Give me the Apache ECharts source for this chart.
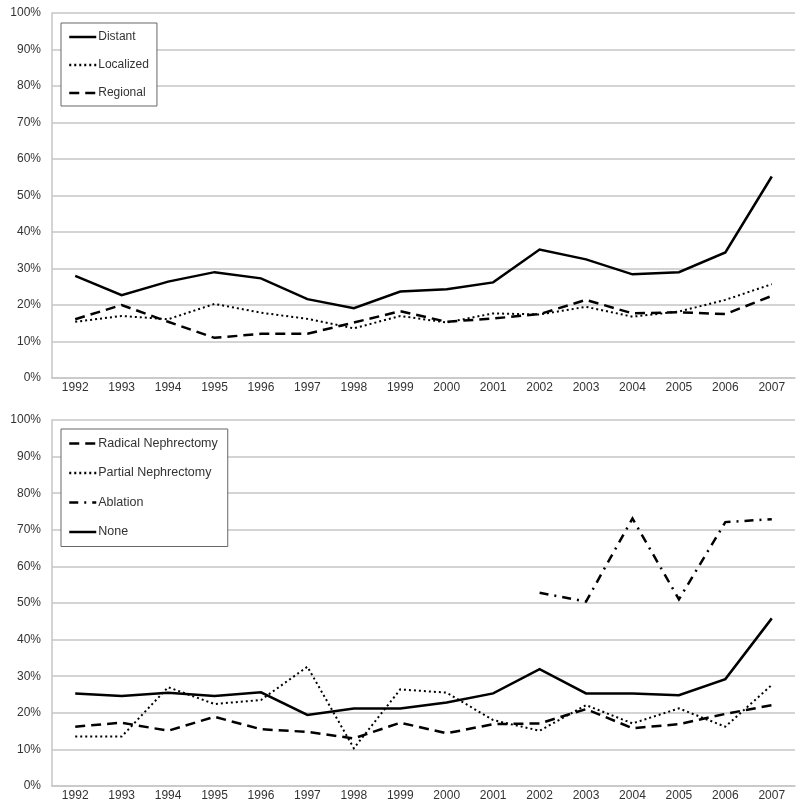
<!DOCTYPE html>
<html>
<head>
<meta charset="utf-8">
<script src="https://cdn.jsdelivr.net/npm/echarts@6/dist/echarts.min.js"></script>
<style>
html,body{margin:0;padding:0;background:#fff;}
#chart{width:800px;height:809px;}
</style>
</head>
<body>
<div id="chart"></div>
<script>
var years = ['1992','1993','1994','1995','1996','1997','1998','1999','2000','2001','2002','2003','2004','2005','2006','2007'];

var distant   = [28.0, 22.7, 26.4, 29.0, 27.3, 21.6, 19.1, 23.7, 24.3, 26.2, 35.2, 32.5, 28.4, 29.0, 34.4, 55.2];
var localized = [15.4, 17.0, 16.1, 20.3, 17.9, 16.2, 13.6, 17.0, 15.2, 17.7, 17.4, 19.5, 16.8, 18.2, 21.4, 25.7];
var regional  = [16.1, 20.0, 15.4, 11.0, 12.1, 12.1, 15.2, 18.3, 15.4, 16.3, 17.5, 21.4, 17.7, 18.0, 17.5, 22.5];

var radical = [16.2, 17.3, 15.1, 18.9, 15.5, 14.8, 13.0, 17.3, 14.4, 16.9, 17.1, 21.0, 15.8, 16.9, 19.7, 22.1];
var partial = [13.5, 13.5, 27.0, 22.4, 23.5, 32.6, 10.3, 26.4, 25.5, 18.0, 15.1, 22.1, 17.1, 21.2, 16.2, 27.6];
var ablation = [null, null, null, null, null, null, null, null, null, null, 52.8, 50.4, 73.1, 51.0, 72.1, 72.9];
var none    = [25.3, 24.6, 25.5, 24.6, 25.6, 19.4, 21.2, 21.2, 22.8, 25.3, 31.9, 25.3, 25.3, 24.8, 29.2, 45.8];

var yTicks = [0, 10, 20, 30, 40, 50, 60, 70, 80, 90, 100];

var chart = echarts.init(document.getElementById('chart'), null, {renderer: 'canvas'});

var fontFam = '"Liberation Sans", Arial, sans-serif';
var labelColor = '#333';
var gridColor = '#c6c6c6';

function xAxis(idx) {
  return {
    type: 'category', gridIndex: idx, data: years, boundaryGap: true,
    axisLine: {show: true, lineStyle: {color: gridColor, width: 1.5}},
    axisTick: {show: false},
    axisLabel: {color: labelColor, fontSize: 12, fontFamily: fontFam, margin: 4}
  };
}
function yAxis(idx) {
  return {
    type: 'value', gridIndex: idx, min: yTicks[0], max: yTicks[yTicks.length - 1], interval: 10,
    axisLine: {show: true, lineStyle: {color: gridColor, width: 1.5}},
    axisTick: {show: false},
    splitLine: {show: true, lineStyle: {color: gridColor, width: 1.5}},
    axisLabel: {color: labelColor, fontSize: 12, fontFamily: fontFam, margin: 11, formatter: '{value}%'}
  };
}
function line(name, data, idx, dash, width) {
  return {
    name: name, type: 'line', xAxisIndex: idx, yAxisIndex: idx, data: data,
    symbol: 'none', connectNulls: false, animation: false,
    lineStyle: {color: '#000', width: width, type: dash, cap: 'butt', join: 'miter'},
    itemStyle: {color: '#000'}
  };
}

var option = {
  backgroundColor: '#fff',
  animation: false,
  grid: [
    {left: 52, right: 5, top: 13, height: 365},
    {left: 52, right: 5, top: 420, height: 366}
  ],
  xAxis: [xAxis(0), xAxis(1)],
  yAxis: [yAxis(0), yAxis(1)],
  legend: [
    {
      data: ['Distant', 'Localized', 'Regional'],
      orient: 'vertical', left: 61, top: 23,
      backgroundColor: '#fff', borderColor: '#666', borderWidth: 1,
      padding: [8, 8, 7, 7], itemGap: 16, itemWidth: 27, itemHeight: 14,
      itemStyle: {opacity: 0},
      lineStyle: {width: 2.5},
      textStyle: {color: labelColor, fontSize: 12, fontFamily: fontFam, padding: [0, 0, 0, -3]},
      selectedMode: false
    },
    {
      data: ['Radical Nephrectomy', 'Partial Nephrectomy', 'Ablation', 'None'],
      orient: 'vertical', left: 61, top: 429,
      backgroundColor: '#fff', borderColor: '#666', borderWidth: 1,
      padding: [8, 10, 8, 7], itemGap: 16.5, itemWidth: 27, itemHeight: 14,
      itemStyle: {opacity: 0},
      lineStyle: {width: 2.5},
      textStyle: {color: labelColor, fontSize: 12.5, fontFamily: fontFam, padding: [0, 0, 0, -3]},
      selectedMode: false
    }
  ],
  series: [
    line('Distant', distant, 0, 'solid', 2.5),
    line('Localized', localized, 0, [2, 3], 2),
    line('Regional', regional, 0, [10, 6], 2.5),
    line('Radical Nephrectomy', radical, 1, [10, 6], 2.5),
    line('Partial Nephrectomy', partial, 1, [2, 3], 2),
    line('Ablation', ablation, 1, [9, 6, 2, 6], 2.5),
    line('None', none, 1, 'solid', 2.5)
  ]
};
chart.setOption(option);
</script>
</body>
</html>
